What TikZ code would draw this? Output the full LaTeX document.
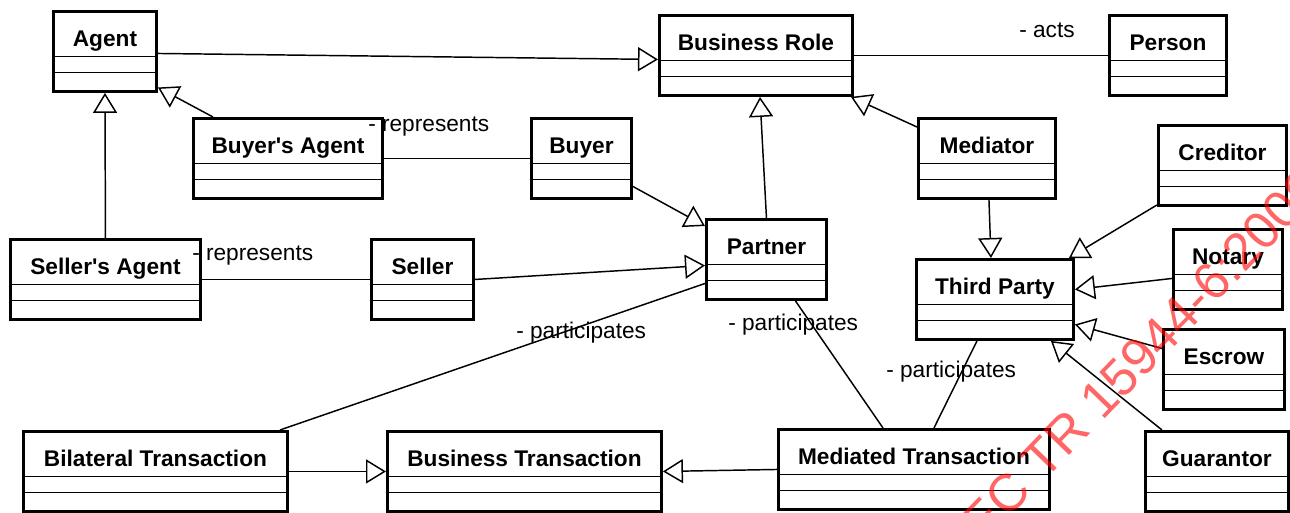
\documentclass[tikz,border=0pt]{standalone}
\usepackage{fontspec}
\setmainfont{Liberation Sans}
\usetikzlibrary{calc,arrows.meta}

\begin{document}
\begin{tikzpicture}[x=0.75pt,y=0.75pt,yscale=-1,xscale=1,
  classbox/.style={draw, line width=2.2pt, anchor=north west, inner sep=0pt,
    minimum width=#1*0.75pt, text height=26.25pt, text depth=33.75pt,
    font=\fontsize{17}{20}\selectfont\bfseries,
    path picture={
      \draw[line width=1.1pt] ($(path picture bounding box.north west)!0.5625!(path picture bounding box.south west)$) -- ($(path picture bounding box.north east)!0.5625!(path picture bounding box.south east)$);
      \draw[line width=1.1pt] ($(path picture bounding box.north west)!0.7625!(path picture bounding box.south west)$) -- ($(path picture bounding box.north east)!0.7625!(path picture bounding box.south east)$);
    }},
  assoc/.style={draw, line width=1.1pt},
  gen/.style={draw, line width=1.1pt, -{Triangle[open, length=15pt, width=18pt]}},
  rolename/.style={font=\fontsize{17}{20}\selectfont, inner sep=0pt, anchor=west}]
\useasboundingbox (0,0) rectangle (1290,513);
\clip (0,0) rectangle (1290,513);

%Shape: Class boxes, top row
\node[classbox=103] (agent) at (52,10) {Agent};
\node[classbox=193] (brole) at (658,14) {Business Role};
\node[classbox=117] (person) at (1108,14) {Person};
%Shape: Class boxes, second row
\node[classbox=189] (buyagent) at (192,117) {Buyer\textquotesingle s Agent};
\node[classbox=100] (buyer) at (530,117) {Buyer};
\node[classbox=137] (mediator) at (917,117) {Mediator};
\node[classbox=128] (creditor) at (1157,124) {Creditor};
%Shape: Class boxes, middle row
\node[classbox=120] (partner) at (705,218) {Partner};
\node[classbox=190] (selagent) at (9,238) {Seller\textquotesingle s Agent};
\node[classbox=102] (seller) at (370,238) {Seller};
\node[classbox=157] (thirdp) at (915,258) {Third Party};
\node[classbox=109] (notary) at (1172,228) {Notary};
\node[classbox=121] (escrow) at (1162,328) {Escrow};
%Shape: Class boxes, bottom row
\node[classbox=264] (bilat) at (22,430) {Bilateral Transaction};
\node[classbox=274] (bustrans) at (386,430) {Business Transaction};
\node[classbox=271] (medtrans) at (777,428) {Mediated Transaction};
\node[classbox=143] (guarantor) at (1144,430) {Guarantor};

%Generalizations
\draw[gen] ($(agent.east)+(0,2)$) -- ($(brole.west)+(0,4)$);
\draw[gen] ($(buyagent.north west)+(21,0)$) -- ($(agent.east)+(0,36)$);
\draw[gen] (selagent.north) -- (agent.south);
\draw[gen] ($(buyer.east)+(0,28)$) -- ($(partner.north west)+(0,8)$);
\draw[gen] (seller.east) -- ($(partner.west)+(0,6)$);
\draw[gen] (partner.north) -- ($(brole.south)+(4,0)$);
\draw[gen] ($(mediator.north west)+(0,10)$) -- ($(brole.south east)+(-3,0)$);
\draw[gen] ($(mediator.south)+(2,0)$) -- ($(thirdp.north)+(-4,0)$);
\draw[gen] ($(creditor.south west)+(0,-2)$) -- ($(thirdp.north east)+(-6,0)$);
\draw[gen] ($(notary.west)+(0,9)$) -- ($(thirdp.east)+(0,-10)$);
\draw[gen] ($(escrow.west)+(0,-21)$) -- ($(thirdp.east)+(0,25)$);
\draw[gen] ($(guarantor.north west)+(18,0)$) -- ($(thirdp.south east)+(-24,0)$);
\draw[gen] (bilat.east) -- (bustrans.west);
\draw[gen] (medtrans.west) -- (bustrans.east);

%Associations
\draw[assoc] (buyagent.east) -- (buyer.west);
\draw[assoc] (selagent.east) -- (seller.west);
\draw[assoc] (brole.east) -- (person.west);
\draw[assoc] ($(partner.west)+(0,24)$) -- ($(bilat.north east)+(-9,0)$);
\draw[assoc] ($(partner.south)+(29,0)$) -- ($(medtrans.north west)+(106,0)$);
\draw[assoc] ($(thirdp.south)+(-18,0)$) -- ($(medtrans.north)+(20,0)$);

% Text Node
\node[rolename] (rep1) at (368,127) {- represents};
% Text Node
\node[rolename] (rep2) at (192,256) {- represents};
% Text Node
\node[rolename] (acts) at (1019,30) {- acts};
% Text Node
\node[rolename] (part1) at (516,333) {- participates};
% Text Node
\node[rolename] (part2) at (728,325) {- participates};
% Text Node
\node[rolename] (part3) at (886,372) {- participates};

% Watermark
\node[font=\fontsize{39}{45}\selectfont, text=red, text opacity=0.6, rotate=46, inner sep=0pt] (wmark) at (1100,397) {ISO/IEC TR 15944-6:2009};

\end{tikzpicture}
\end{document}
